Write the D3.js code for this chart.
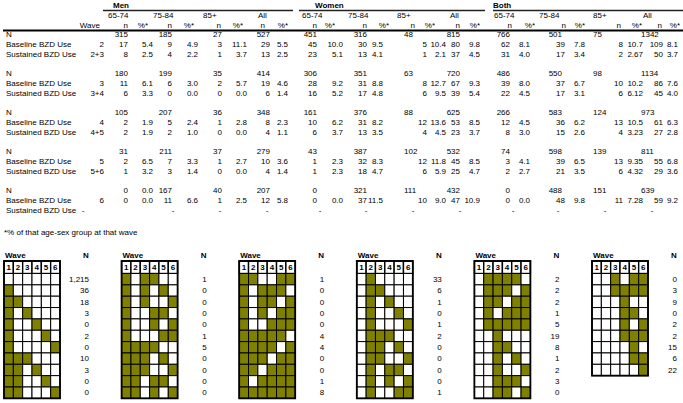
<!DOCTYPE html>
<html lang="en">
<head>
<meta charset="UTF-8">
<title>BZD use by wave</title>
<script src="https://cdn.jsdelivr.net/npm/d3@7"></script>
<style>
  body { margin: 0; background: #fff; }
  svg text { font-family: "Liberation Sans", Arial, sans-serif; font-size: 8px; fill: #000; }
  svg text.b { font-weight: bold; }
</style>
</head>
<body>
<svg id="chart" width="683" height="403"></svg>
<script>
// ---- table data ----
const sexes = ["Men", "Women", "Both"]
const ageGroups = ["65-74", "75-84", "85+", "All"]
const waves = ["2", "3", "4", "5", "6"]
const sustainedWaves = ["2+3", "3+4", "4+5", "5+6", ""]
const rowLabels = ["N", "Baseline BZD Use", "Sustained BZD Use"]

// columns: Men 65-74, 75-84, 85+, All | Women ... | Both ...
const nTotal = [
  [315, 185, 27, 527, 451, 316, 48, 815, 766, 501, 75, 1342],
  [180, 199, 35, 414, 306, 351, 63, 720, 486, 550, 98, 1134],
  [105, 207, 36, 348, 161, 376, 88, 625, 266, 583, 124, 973],
  [31, 211, 37, 279, 43, 387, 102, 532, 74, 598, 139, 811],
  [0, 167, 40, 207, 0, 321, 111, 432, 0, 488, 151, 639]
]
const nRowPct = [[], [], [], [], ["0.0"]]
const baselineN = [
  [17, 9, 3, 29, 45, 30, 5, 80, 62, 39, 8, 109],
  [11, 6, 2, 19, 28, 31, 8, 67, 39, 37, 10, 86],
  [2, 5, 1, 8, 10, 31, 12, 53, 12, 36, 13, 61],
  [2, 7, 1, 10, 1, 32, 12, 45, 3, 39, 13, 55],
  [0, 11, 1, 12, 0, 37, 10, 47, 0, 48, 11, 59]
]
const baselinePct = [
  ["5.4", "4.9", "11.1", "5.5", "10.0", "9.5", "10.4", "9.8", "8.1", "7.8", "10.7", "8.1"],
  ["6.1", "3.0", "5.7", "4.6", "9.2", "8.8", "12.7", "9.3", "8.0", "6.7", "10.2", "7.6"],
  ["1.9", "2.4", "2.8", "2.3", "6.2", "8.2", "13.6", "8.5", "4.5", "6.2", "10.5", "6.3"],
  ["6.5", "3.3", "2.7", "3.6", "2.3", "8.3", "11.8", "8.5", "4.1", "6.5", "9.35", "6.8"],
  ["0.0", "6.6", "2.5", "5.8", "0.0", "11.5", "9.0", "10.9", "0.0", "9.8", "7.28", "9.2"]
]
const sustainedN = [
  [8, 4, 1, 13, 23, 13, 1, 37, 31, 17, 2, 50],
  [6, 0, 0, 6, 16, 17, 6, 39, 22, 17, 6, 45],
  [2, 2, 0, 4, 6, 13, 4, 23, 8, 15, 4, 27],
  [1, 3, 0, 4, 1, 18, 6, 25, 2, 21, 6, 29],
  ["-", "-", "-", "-", "-", "-", "-", "-", "-", "-", "-", "-"]
]
const sustainedPct = [
  ["2.5", "2.2", "3.7", "2.5", "5.1", "4.1", "2.1", "4.5", "4.0", "3.4", "2.67", "3.7"],
  ["3.3", "0.0", "0.0", "1.4", "5.2", "4.8", "9.5", "5.4", "4.5", "3.1", "6.12", "4.0"],
  ["1.9", "1.0", "0.0", "1.1", "3.7", "3.5", "4.5", "3.7", "3.0", "2.6", "3.23", "2.8"],
  ["3.2", "1.4", "0.0", "1.4", "2.3", "4.7", "5.9", "4.7", "2.7", "3.5", "4.32", "3.6"],
  []
]
const footnote = "*% of that age-sex group at that wave"

// ---- wave pattern grids (1 = BZD use at that wave) ----
const gridWaves = [1, 2, 3, 4, 5, 6]
const gridPatterns = [
  ["000000", "100000", "110000", "101000", "100100", "100010", "100001", "111000", "110100", "110010", "110001"],
  ["101100", "101010", "101001", "100110", "100101", "100011", "111100", "111010", "111001", "110110", "110101"],
  ["110011", "101110", "101101", "101011", "100111", "111110", "111101", "111011", "110111", "101111", "111111"],
  ["010000", "011000", "010100", "010010", "010001", "011100", "011010", "011001", "010110", "010101", "010011"],
  ["011110", "011101", "011011", "010111", "011111", "001000", "001100", "001010", "001001", "001110", "001101"],
  ["001011", "001111", "000100", "000110", "000101", "000111", "000010", "000011", "000001"]
]
const gridN = [
  [1215, 36, 18, 3, 0, 2, 0, 10, 3, 0, 0],
  [1, 0, 0, 0, 0, 1, 5, 0, 0, 0, 0],
  [1, 0, 0, 0, 0, 4, 4, 0, 0, 1, 8],
  [33, 6, 1, 0, 1, 2, 0, 0, 0, 0, 1],
  [2, 2, 2, 1, 5, 19, 8, 1, 2, 3, 0],
  [0, 3, 9, 0, 2, 2, 15, 6, 22]
]

// ---- layout ----
const svg = d3.select("#chart")
const olive = "#808000"

const nRight   = [128, 172, 222, 270, 317, 367, 427, 460, 510, 565, 623, 663]
const pctRight = [153, 198, 247, 288, 343, 383, 446, 480, 530, 585, 643, 678]
const nHdrRight = [128, 172, 221, 265, 317, 367, 415, 460, 512, 566, 621, 662]
const pctHdrRight = [148, 194, 243, 288, 335, 389, 435, 480, 535, 585, 642, 680]
const ageX = [108, 153, 203, 258, 302, 348, 397, 450, 494, 539, 593, 643]
const nRowX = [128, 172, 222, 270, 317, 367, 404, 460, 510, 562, 593, 641]
const nRowAnchor = ["end", "end", "end", "end", "end", "end", "start", "end", "end", "end", "start", "start"]
const dashX = [83, 173, 220, 267, 320, 366, 413, 460, 513, 558, 605, 652]
const sexX = [113, 315, 493]
const sexLine = [[103, 293], [299, 485], [493, 683]]

const cols = d3.range(12)
const xN = d3.scaleOrdinal().domain(cols).range(nRight)
const xP = d3.scaleOrdinal().domain(cols).range(pctRight)
const yBlock = d3.scaleLinear().domain([0, 4]).range([34, 190.5])
const yRow = d3.scalePoint().domain(rowLabels).range([0, 20])

function txt(g, x, y, s, anchor, cls) {
  return g.append("text").attr("x", x).attr("y", y).attr("dy", "0.35em")
    .attr("text-anchor", anchor || "start").attr("class", cls || null).text(s)
}

// header
const head = svg.append("g")
sexes.forEach((s, i) => {
  txt(head, sexX[i], 5, s, "start", "b")
  head.append("line").attr("x1", sexLine[i][0]).attr("x2", sexLine[i][1])
    .attr("y1", 10.5).attr("y2", 10.5).attr("stroke", "#222").attr("stroke-width", 1.3)
})
cols.forEach(c => {
  txt(head, ageX[c], 15.5, ageGroups[c % 4])
  txt(head, nHdrRight[c], 25.5, "n", "end")
  txt(head, pctHdrRight[c], 25.5, "%*", "end")
})
txt(head, 100, 25.5, "Wave", "end")
head.append("line").attr("x1", 3).attr("x2", 683).attr("y1", 30.5).attr("y2", 30.5)
  .attr("stroke", "#000").attr("stroke-width", 2)

// body blocks
const body = svg.append("g")
waves.forEach((w, b) => {
  const y0 = yBlock(b)
  rowLabels.forEach(r => txt(body, 6, y0 + yRow(r), r))
  txt(body, 104, y0 + yRow(rowLabels[1]), w, "end")
  if (sustainedWaves[b]) txt(body, 104, y0 + yRow(rowLabels[2]), sustainedWaves[b], "end")

  const yN = y0 + yRow(rowLabels[0]), yB = y0 + yRow(rowLabels[1]), yS = y0 + yRow(rowLabels[2])
  cols.forEach(c => {
    txt(body, nRowX[c], yN, nTotal[b][c], nRowAnchor[c])
    if (nRowPct[b][c]) txt(body, xP(c), yN, nRowPct[b][c], "end")
    txt(body, xN(c), yB, baselineN[b][c], "end")
    txt(body, xP(c), yB, baselinePct[b][c], "end")
    if (sustainedN[b][c] === "-") txt(body, dashX[c], yS, "-", "middle")
    else {
      txt(body, xN(c), yS, sustainedN[b][c], "end")
      txt(body, xP(c), yS, sustainedPct[b][c], "end")
    }
  })
})
txt(svg, 4, 232, footnote)

// ---- grids ----
const gridW = 56, hdrTop = 261, hdrH = 12.5, rowTop = 273.5, rowH = 11.35
const gx = d3.scaleLinear().domain([0, 5]).range([4, 592])
const cx = d3.scaleBand().domain(gridWaves).range([0, gridW])
const cy = d3.scaleBand().domain(d3.range(11)).range([rowTop, rowTop + 11 * rowH])
const fmt = d3.format(",")

gridPatterns.forEach((pat, i) => {
  const g = svg.append("g").attr("transform", `translate(${gx(i)},0)`)
  txt(g, 1, 255, "Wave", "start", "b")
  txt(g, 82, 255, "N", "middle", "b")

  // header boxes
  g.selectAll("rect.h").data(gridWaves).enter().append("rect")
    .attr("x", d => cx(d)).attr("y", hdrTop).attr("width", cx.bandwidth()).attr("height", hdrH)
    .attr("fill", "#fff").attr("stroke", "#000").attr("stroke-width", 1.4)
  g.selectAll("text.h").data(gridWaves).enter().append("text")
    .attr("class", "b").attr("x", d => cx(d) + cx.bandwidth() / 2).attr("y", hdrTop + hdrH / 2)
    .attr("dy", "0.35em").attr("text-anchor", "middle").text(d => d)

  // pattern cells
  const cells = []
  pat.forEach((p, r) => p.split("").forEach((v, k) => cells.push({ r, w: gridWaves[k], on: v === "1" })))
  g.selectAll("rect.c").data(cells).enter().append("rect")
    .attr("x", d => cx(d.w)).attr("y", d => cy(d.r))
    .attr("width", cx.bandwidth()).attr("height", cy.bandwidth())
    .attr("fill", d => d.on ? olive : "#fff").attr("stroke", "#000").attr("stroke-width", 1)

  g.append("rect").attr("x", 0).attr("y", hdrTop).attr("width", gridW)
    .attr("height", rowTop + pat.length * rowH - hdrTop)
    .attr("fill", "none").attr("stroke", "#000").attr("stroke-width", 1.8)

  g.selectAll("text.n").data(gridN[i]).enter().append("text")
    .attr("x", 85).attr("y", (d, r) => cy(r) + cy.bandwidth() / 2)
    .attr("dy", "0.35em").attr("text-anchor", "end").text(d => fmt(d))
})
</script>
</body>
</html>
